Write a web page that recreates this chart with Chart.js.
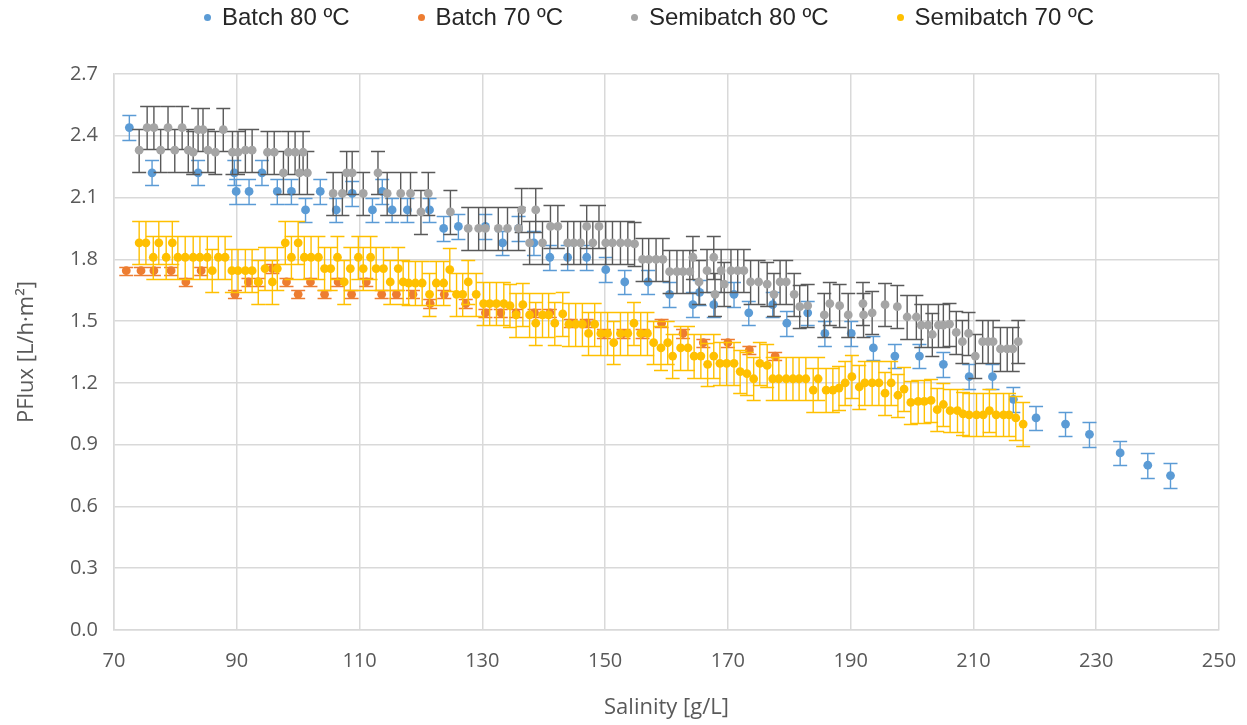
<!DOCTYPE html>
<html>
<head>
<meta charset="utf-8">
<script src="https://cdn.jsdelivr.net/npm/chart.js@4"></script>
<style>
body{margin:0;background:#fff}
#contenedor{position:relative;width:1247px;height:725px}
#grafica{position:absolute;left:0;top:0}
#leyenda{position:absolute;top:0;left:0;height:34px;display:flex;align-items:center;padding-left:204px;gap:68px;font:24px 'Liberation Sans',Arial,sans-serif;color:#262626;white-space:nowrap}
.item{display:flex;align-items:center}
.punto{width:7px;height:7px;border-radius:50%;margin-right:11px}
</style>
</head>
<body>
<div id="contenedor">
  <canvas id="grafica" width="1247" height="725"></canvas>
  <div id="leyenda"></div>
</div>
<script>
// Batch 80 ºC
const sal_b80 = [72.5, 76.2, 83.7, 89.6, 89.9, 92.0, 94.1, 96.6, 98.9, 101.2, 103.6, 106.2,
  108.8, 112.1, 113.7, 115.3, 117.8, 121.4, 123.7, 126.1, 130.5, 133.3, 135.9, 138.4,
  141.0, 143.9, 147.0, 150.1, 153.2, 157.0, 160.5, 164.3, 165.4, 167.7, 171.0, 173.4,
  177.3, 179.6, 183.0, 185.8, 190.1, 193.7, 197.2, 201.2, 205.1, 209.3, 213.1, 216.5,
  220.2, 225.0, 228.9, 233.9, 238.4, 242.1]
const flux_b80 = [2.44, 2.22, 2.22, 2.22, 2.13, 2.13, 2.22, 2.13, 2.13, 2.04, 2.13, 2.04,
  2.12, 2.04, 2.13, 2.04, 2.04, 2.04, 1.95, 1.96, 1.96, 1.88, 1.95, 1.88,
  1.81, 1.81, 1.81, 1.75, 1.69, 1.69, 1.63, 1.58, 1.64, 1.58, 1.63, 1.54,
  1.58, 1.49, 1.54, 1.44, 1.44, 1.37, 1.33, 1.33, 1.29, 1.23, 1.23, 1.12,
  1.03, 1.00, 0.95, 0.86, 0.80, 0.75]

// Batch 70 ºC
const sal_b70 = [72.0, 74.4, 76.5, 79.3, 81.7, 84.2, 89.7, 91.9, 93.5, 95.8, 98.1, 100.0,
  102.0, 104.3, 106.5, 108.7, 111.1, 113.6, 116.0, 118.7, 121.5, 123.8, 127.3, 130.5,
  133.0, 135.5, 138.5, 141.0, 144.4, 147.0, 149.8, 153.0, 156.1, 159.2, 162.7, 166.0,
  170.0, 173.5, 177.7]
const flux_b70 = [1.745, 1.745, 1.745, 1.745, 1.69, 1.745, 1.63, 1.69, 1.69, 1.755, 1.69, 1.63,
  1.69, 1.63, 1.69, 1.63, 1.69, 1.63, 1.63, 1.63, 1.585, 1.63, 1.585, 1.54,
  1.54, 1.54, 1.54, 1.54, 1.49, 1.49, 1.44, 1.44, 1.44, 1.49, 1.44, 1.395,
  1.395, 1.36, 1.33]

// Semibatch 80 ºC
const sal_s80 = [74.1, 75.4, 76.5, 77.6, 78.8, 79.9, 81.1, 82.1, 82.9, 83.7, 84.5, 85.3,
  86.5, 87.8, 89.3, 90.2, 91.4, 92.5, 95.0, 96.1, 97.6, 98.4, 99.5, 100.2,
  100.8, 101.5, 105.7, 107.2, 107.9, 108.8, 110.6, 113.0, 114.5, 116.7, 118.3, 120.0,
  121.2, 124.8, 127.7, 129.4, 130.5, 132.6, 134.1, 135.9, 136.4, 137.7, 138.7, 139.8,
  141.1, 142.3, 143.9, 144.9, 146.0, 147.0, 148.0, 149.0, 150.1, 151.2, 152.5, 153.7,
  154.8, 156.1, 157.1, 158.3, 159.4, 160.5, 161.7, 162.7, 163.8, 164.3, 165.3, 166.6,
  167.7, 167.9, 168.9, 169.4, 170.5, 171.6, 172.6, 173.7, 175.0, 176.4, 177.5, 178.5,
  179.5, 180.8, 181.7, 183.0, 185.7, 186.6, 188.2, 189.6, 192.0, 192.1, 193.5, 195.6,
  197.6, 199.2, 200.7, 201.5, 202.6, 203.3, 204.3, 205.1, 206.1, 207.2, 208.2, 209.2,
  210.3, 211.5, 212.4, 213.2, 214.4, 215.5, 216.4, 217.3]
const flux_s80 = [2.33, 2.44, 2.44, 2.33, 2.44, 2.33, 2.44, 2.33, 2.32, 2.43, 2.43, 2.33,
  2.32, 2.43, 2.32, 2.32, 2.33, 2.33, 2.32, 2.32, 2.22, 2.32, 2.32, 2.22,
  2.32, 2.22, 2.12, 2.12, 2.22, 2.22, 2.12, 2.22, 2.12, 2.12, 2.12, 2.03,
  2.12, 2.03, 1.95, 1.95, 1.95, 1.95, 1.95, 1.95, 2.04, 1.88, 2.04, 1.88,
  1.96, 1.96, 1.88, 1.88, 1.88, 1.96, 1.88, 1.96, 1.88, 1.88, 1.88, 1.88,
  1.875, 1.80, 1.80, 1.80, 1.80, 1.74, 1.74, 1.74, 1.74, 1.81, 1.69, 1.745,
  1.81, 1.63, 1.745, 1.68, 1.745, 1.745, 1.745, 1.69, 1.69, 1.68, 1.63, 1.69,
  1.69, 1.63, 1.57, 1.575, 1.53, 1.585, 1.575, 1.53, 1.585, 1.53, 1.54, 1.58,
  1.57, 1.52, 1.52, 1.48, 1.48, 1.435, 1.48, 1.48, 1.485, 1.445, 1.40, 1.44,
  1.33, 1.40, 1.40, 1.40, 1.365, 1.365, 1.365, 1.40]

// Semibatch 70 ºC
const sal_s70 = [74.1, 75.2, 76.4, 77.3, 78.5, 79.5, 80.4, 81.6, 82.9, 84.0, 85.2, 86.0,
  87.0, 88.1, 89.2, 90.2, 91.4, 92.5, 93.5, 94.6, 95.8, 96.6, 97.9, 98.9,
  100.0, 101.0, 102.1, 103.3, 104.3, 105.3, 106.4, 107.5, 108.5, 109.8, 110.6, 111.8,
  112.7, 113.9, 115.0, 116.3, 117.1, 118.0, 119.1, 120.2, 121.4, 122.5, 123.7, 124.7,
  125.8, 126.8, 127.7, 129.0, 130.2, 131.2, 132.3, 133.5, 134.5, 135.5, 136.6, 137.7,
  138.7, 139.8, 140.8, 141.8, 143.1, 144.1, 145.2, 146.3, 147.3, 148.3, 149.3, 150.4,
  151.4, 152.5, 153.7, 154.7, 155.8, 156.9, 157.9, 159.1, 160.2, 161.0, 162.3, 163.5,
  164.5, 165.6, 166.7, 167.7, 168.7, 169.8, 171.0, 172.0, 173.1, 174.2, 175.2, 176.4,
  177.3, 178.3, 179.5, 180.6, 181.6, 182.7, 183.9, 184.7, 186.0, 187.1, 188.1, 189.1,
  190.2, 191.4, 192.3, 193.5, 194.6, 195.6, 196.6, 197.7, 198.7, 199.8, 201.0, 202.0,
  203.1, 204.1, 205.1, 206.2, 207.4, 208.3, 209.3, 210.5, 211.6, 212.6, 213.7, 214.9,
  215.8, 216.9, 218.1]
const flux_s70 = [1.88, 1.88, 1.81, 1.88, 1.81, 1.88, 1.81, 1.81, 1.81, 1.81, 1.81, 1.745,
  1.81, 1.81, 1.745, 1.745, 1.745, 1.745, 1.69, 1.755, 1.69, 1.755, 1.88, 1.81,
  1.88, 1.81, 1.81, 1.81, 1.755, 1.755, 1.81, 1.69, 1.755, 1.81, 1.755, 1.81,
  1.755, 1.755, 1.69, 1.755, 1.69, 1.685, 1.685, 1.685, 1.63, 1.685, 1.685, 1.75,
  1.63, 1.63, 1.69, 1.63, 1.585, 1.585, 1.585, 1.585, 1.575, 1.53, 1.58, 1.53,
  1.49, 1.53, 1.53, 1.49, 1.535, 1.485, 1.485, 1.485, 1.44, 1.485, 1.44, 1.44,
  1.395, 1.44, 1.44, 1.49, 1.44, 1.44, 1.395, 1.37, 1.395, 1.33, 1.37, 1.37,
  1.33, 1.33, 1.29, 1.33, 1.295, 1.295, 1.295, 1.255, 1.245, 1.22, 1.295, 1.285,
  1.22, 1.22, 1.22, 1.22, 1.22, 1.22, 1.165, 1.22, 1.165, 1.165, 1.175, 1.20,
  1.23, 1.18, 1.20, 1.20, 1.20, 1.15, 1.20, 1.14, 1.17, 1.105, 1.11, 1.11,
  1.115, 1.07, 1.095, 1.065, 1.065, 1.05, 1.045, 1.045, 1.045, 1.065, 1.045, 1.045,
  1.045, 1.03, 1.00]

// barras de error (valor fijo por serie)
const error_b80 = 0.06
const error_b70 = 0.02
const error_s80 = 0.105
const error_s70 = 0.105

const etiquetas = ['Batch 80 ºC', 'Batch 70 ºC', 'Semibatch 80 ºC', 'Semibatch 70 ºC']
const ticks_x = [70, 90, 110, 130, 150, 170, 190, 210, 230, 250]

function puntos(xs, ys) {
  return xs.map((x, i) => ({ x: x, y: ys[i] }))
}

const barras_error = {
  id: 'barras_error',
  beforeDatasetDraw(chart, args) {
    const ds = chart.data.datasets[args.index]
    const escala_y = chart.scales.y
    const ctx = chart.ctx
    ctx.save()
    ctx.strokeStyle = ds.color_error
    ctx.lineWidth = 1.4
    ctx.beginPath()
    args.meta.data.forEach((p, i) => {
      const v = ds.data[i].y
      const y1 = Math.round(escala_y.getPixelForValue(v + ds.error)) + 0.5
      const y2 = Math.round(escala_y.getPixelForValue(v - ds.error)) + 0.5
      ctx.moveTo(p.x, y1); ctx.lineTo(p.x, y2)
      ctx.moveTo(p.x - 7, y1); ctx.lineTo(p.x + 7, y1)
      ctx.moveTo(p.x - 7, y2); ctx.lineTo(p.x + 7, y2)
    })
    ctx.stroke()
    ctx.restore()
  }
}

const fuente_ejes = "'Open Sans', 'Liberation Sans', sans-serif"

const grafica = new Chart(document.getElementById('grafica'), {
  type: 'scatter',
  data: {
    datasets: [
      { label: etiquetas[0], data: puntos(sal_b80, flux_b80), backgroundColor: '#5B9BD5',
        color_error: '#5B9BD5', error: error_b80, order: 4 },
      { label: etiquetas[1], data: puntos(sal_b70, flux_b70), backgroundColor: '#ED7D31',
        color_error: '#ED7D31', error: error_b70, order: 3 },
      { label: etiquetas[2], data: puntos(sal_s80, flux_s80), backgroundColor: '#A5A5A5',
        color_error: '#595959', error: error_s80, order: 2 },
      { label: etiquetas[3], data: puntos(sal_s70, flux_s70), backgroundColor: '#FFC000',
        color_error: '#FFC000', error: error_s70, order: 1 }
    ]
  },
  options: {
    responsive: false,
    animation: false,
    layout: { padding: { top: 74, right: 28, left: 0, bottom: 0 } },
    elements: { point: { radius: 4.4, borderWidth: 0, hoverRadius: 4.4 } },
    plugins: { legend: { display: false }, tooltip: { enabled: false } },
    scales: {
      x: {
        type: 'linear', min: 70, max: 250,
        afterBuildTicks: escala => { escala.ticks = ticks_x.map(v => ({ value: v })) },
        afterFit: escala => {
          escala.height = 95
          escala.paddingRight = 0
          escala.paddingLeft = 0
        },
        grid: { color: '#d9d9d9', lineWidth: 1.5, drawTicks: false },
        border: { color: '#d9d9d9', width: 1.5 },
        ticks: { color: '#595959', padding: 19, font: { family: fuente_ejes, size: 20 } },
        title: { display: true, text: 'Salinity [g/L]', color: '#595959',
          padding: { top: 0, bottom: 4 }, font: { family: fuente_ejes, size: 22 } }
      },
      y: {
        min: 0, max: 2.7,
        ticks: { stepSize: 0.3, color: '#595959', padding: 16, callback: v => v.toFixed(1),
          font: { family: fuente_ejes, size: 20 } },
        afterFit: escala => { escala.width = 114 },
        grid: { color: '#d9d9d9', lineWidth: 1.5, drawTicks: false },
        border: { color: '#d9d9d9', width: 1.5 },
        title: { display: true, text: 'PFlux [L/h·m²]', color: '#595959',
          padding: { top: 14, bottom: 0 }, font: { family: fuente_ejes, size: 22 } }
      }
    }
  },
  plugins: [barras_error]
})

// leyenda en HTML, armada con las etiquetas que da Chart.js
const leyenda = document.getElementById('leyenda')
Chart.defaults.plugins.legend.labels.generateLabels(grafica)
  .sort((a, b) => a.datasetIndex - b.datasetIndex)
  .forEach(et => {
    const item = document.createElement('div')
    item.className = 'item'
    const punto = document.createElement('span')
    punto.className = 'punto'
    punto.style.background = et.fillStyle
    const texto = document.createElement('span')
    texto.innerText = et.text
    item.appendChild(punto)
    item.appendChild(texto)
    leyenda.appendChild(item)
  })
</script>
</body>
</html>
